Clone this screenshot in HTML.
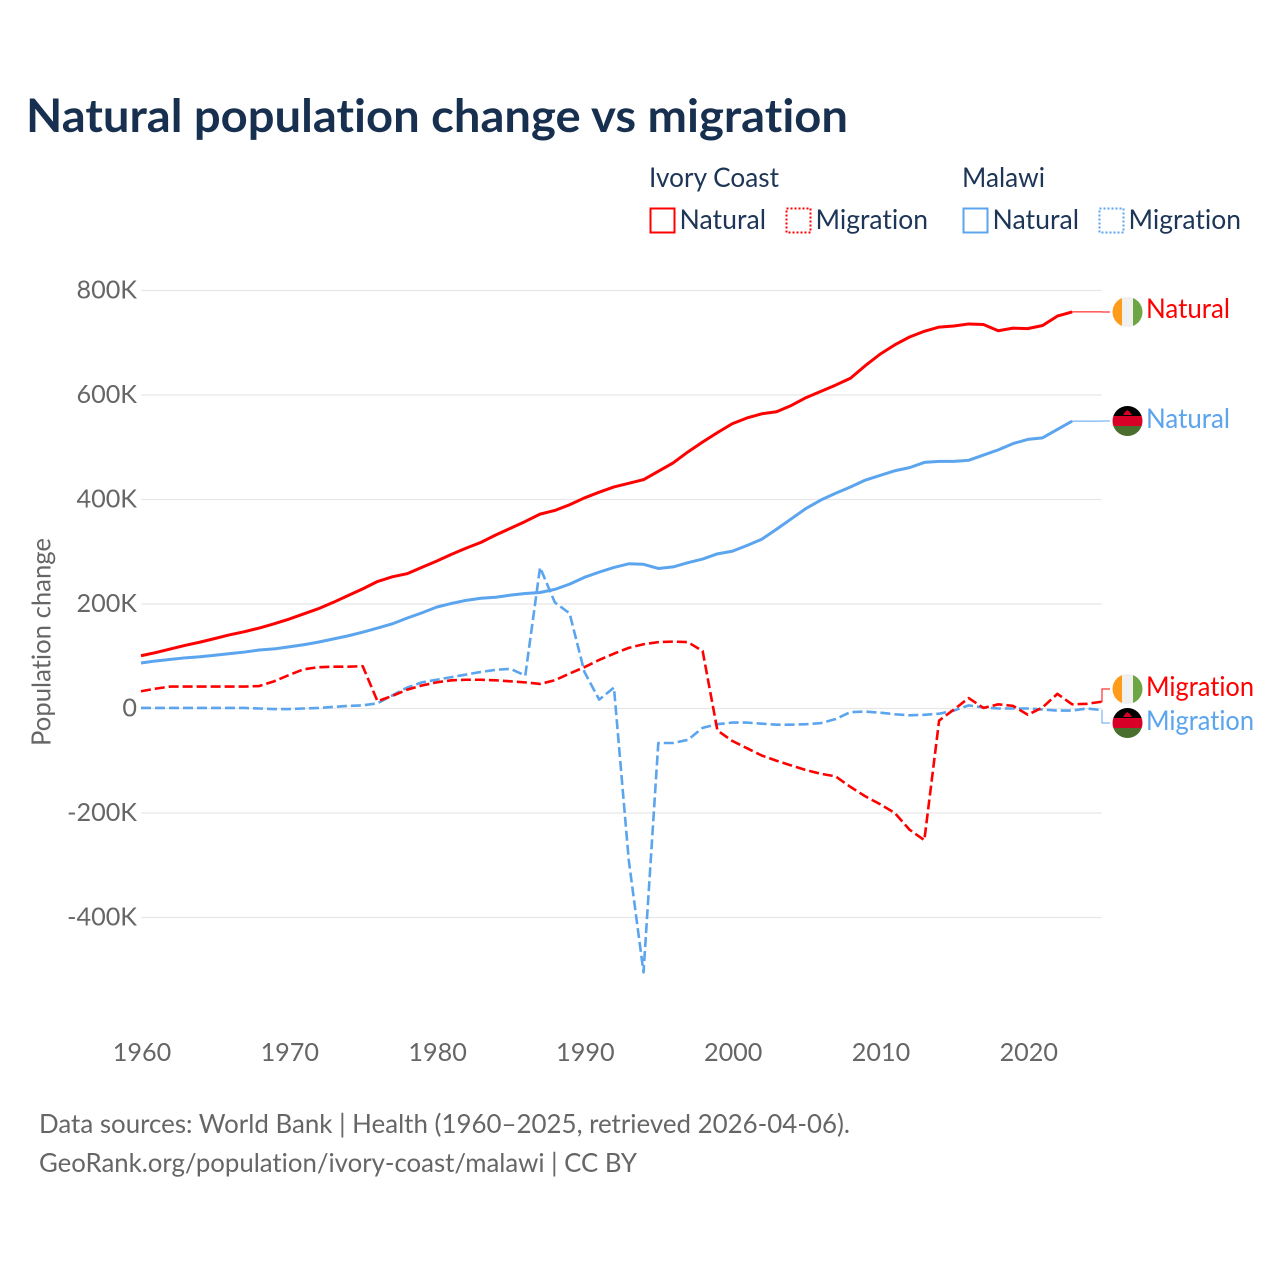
<!DOCTYPE html>
<html lang="en">
<head>
<meta charset="utf-8">
<title>Natural population change vs migration</title>
<style>
html,body{margin:0;padding:0;background:#fff;width:1280px;height:1280px;overflow:hidden}
svg{display:block}
text{font-family:"Lato","Carlito","Liberation Sans",sans-serif;font-variant-ligatures:none;font-feature-settings:"liga" 0,"clig" 0}
</style>
</head>
<body>
<svg id="chart" xmlns="http://www.w3.org/2000/svg" width="1280" height="1280" viewBox="0 0 1280 1280">
  <defs>
    <clipPath id="flag-clip-a"><circle cx="1127.5" cy="312" r="15"/></clipPath>
    <clipPath id="flag-clip-b"><circle cx="1127.5" cy="421" r="15"/></clipPath>
    <clipPath id="flag-clip-c"><circle cx="1127.5" cy="689" r="15"/></clipPath>
    <clipPath id="flag-clip-d"><circle cx="1127.5" cy="723" r="15"/></clipPath>
  </defs>
  <rect width="1280" height="1280" fill="#fff"/>
  <text x="26" y="132" font-size="46" font-weight="700" fill="#18304f" textLength="822" lengthAdjust="spacingAndGlyphs">Natural population change vs migration</text>

  <g font-size="27" fill="#1d3557">
    <text x="649" y="187" textLength="130" lengthAdjust="spacingAndGlyphs">Ivory Coast</text>
    <text x="962" y="187" textLength="83" lengthAdjust="spacingAndGlyphs">Malawi</text>
    <rect x="650.500" y="208.500" width="24" height="24" fill="none" stroke="#ff0000" stroke-width="2"/>
    <text x="679.500" y="229" textLength="86.500" lengthAdjust="spacingAndGlyphs">Natural</text>
    <rect x="786.500" y="208.500" width="24" height="24" fill="none" stroke="#ff0000" stroke-width="2" stroke-dasharray="2,2"/>
    <text x="815.500" y="229" textLength="112.500" lengthAdjust="spacingAndGlyphs">Migration</text>
    <rect x="963.500" y="208.500" width="24" height="24" fill="none" stroke="#5ba4ee" stroke-width="2"/>
    <text x="992.500" y="229" textLength="86.500" lengthAdjust="spacingAndGlyphs">Natural</text>
    <rect x="1099.500" y="208.500" width="24" height="24" fill="none" stroke="#5ba4ee" stroke-width="2" stroke-dasharray="2,2"/>
    <text x="1128.500" y="229" textLength="112.500" lengthAdjust="spacingAndGlyphs">Migration</text>
  </g>

  <g id="grid"></g>
  <g id="y-labels"></g>
  <g id="x-labels"></g>
  <text transform="translate(50.500 642) rotate(-90)" text-anchor="middle" font-size="26" fill="#666" textLength="208" lengthAdjust="spacingAndGlyphs">Population change</text>
  <g id="connectors"></g>
  <g id="series"></g>

  <g clip-path="url(#flag-clip-a)">
    <rect x="1112" y="297" width="10" height="30" fill="#ff9b1a"/><rect x="1122" y="297" width="11" height="30" fill="#f0f0f0"/><rect x="1133" y="297" width="10" height="30" fill="#6da544"/>
  </g>
  <g clip-path="url(#flag-clip-b)">
    <rect x="1112" y="406" width="31" height="10" fill="#000"/><rect x="1112" y="416" width="31" height="10" fill="#d80027"/><rect x="1112" y="426" width="31" height="10" fill="#496e2d"/><path d="M1123 415 h9 l-2 -3 l-2.500 -2 l-2.500 2z" fill="#d80027"/>
  </g>
  <g clip-path="url(#flag-clip-c)">
    <rect x="1112" y="674" width="10" height="30" fill="#ff9b1a"/><rect x="1122" y="674" width="11" height="30" fill="#f0f0f0"/><rect x="1133" y="674" width="10" height="30" fill="#6da544"/>
  </g>
  <g clip-path="url(#flag-clip-d)">
    <rect x="1112" y="708" width="31" height="10" fill="#000"/><rect x="1112" y="718" width="31" height="10" fill="#d80027"/><rect x="1112" y="728" width="31" height="10" fill="#496e2d"/><path d="M1123 717 h9 l-2 -3 l-2.500 -2 l-2.500 2z" fill="#d80027"/>
  </g>

  <g font-size="27">
    <text x="1146" y="318" fill="#ff0000" textLength="84" lengthAdjust="spacingAndGlyphs">Natural</text>
    <text x="1146" y="428" fill="#5ba4ee" textLength="84" lengthAdjust="spacingAndGlyphs">Natural</text>
    <text x="1146" y="696" fill="#ff0000" textLength="108" lengthAdjust="spacingAndGlyphs">Migration</text>
    <text x="1146" y="730" fill="#5ba4ee" textLength="108" lengthAdjust="spacingAndGlyphs">Migration</text>
  </g>

  <g font-size="26" fill="#666">
    <text x="39" y="1133" textLength="811" lengthAdjust="spacingAndGlyphs">Data sources: World Bank | Health (1960–2025, retrieved 2026-04-06).</text>
    <text x="39" y="1172" textLength="598" lengthAdjust="spacingAndGlyphs">GeoRank.org/population/ivory-coast/malawi | CC BY</text>
  </g>
</svg>
<script>
const startYear = 1960;
const xTicks = [1960, 1970, 1980, 1990, 2000, 2010, 2020];
const xTickLabels = ['1960', '1970', '1980', '1990', '2000', '2010', '2020'];
const yTicks = [800, 600, 400, 200, 0, -200, -400];
const yTickLabels = ['800K', '600K', '400K', '200K', '0', '-200K', '-400K'];
const ivoryNatural = [
  101, 107, 114, 121, 127, 134, 141, 147, 154, 162,
  171, 181, 191, 203, 216, 229, 243, 252, 258, 270,
  282, 295, 307, 318, 332, 345, 358, 372, 379, 390,
  403, 414, 424, 431, 438, 454, 470, 491, 510, 528,
  545, 556, 564, 568, 580, 595, 607, 619, 632, 656,
  678, 696, 711, 722, 730, 732, 736, 735, 723, 728,
  727, 733, 751, 759
];
const malawiNatural = [
  87, 91, 94, 97, 99, 102, 105, 108, 112, 114,
  118, 122, 127, 133, 139, 146, 154, 162, 173, 183,
  194, 201, 207, 211, 213, 217, 220, 222, 228, 238,
  251, 261, 270, 277, 276, 268, 271, 279, 286, 296,
  301, 312, 324, 343, 363, 383, 399, 412, 424, 437,
  446, 455, 461, 471, 473, 473, 475, 485, 495, 507,
  515, 518, 534, 550
];
const ivoryMigration = [
  33, 38, 42, 42, 42, 42, 42, 42, 43, 52,
  64, 75, 79, 80, 80, 81, 14, 24, 36, 44,
  50, 54, 55, 55, 54, 52, 50, 47, 54, 67,
  79, 93, 105, 116, 123, 127, 128, 127, 110, -42,
  -62, -76, -90, -100, -109, -118, -125, -130, -150, -168,
  -183, -200, -232, -252, -23, -2, 20, 1, 8, 5,
  -12, 2, 28, 8, 9, 13
];
const malawiMigration = [
  1, 1, 1, 1, 1, 1, 1, 1, 0, -1,
  -1, 0, 1, 3, 5, 6, 10, 25, 40, 50,
  55, 60, 65, 70, 74, 76, 63, 270, 203, 182,
  70, 17, 40, -290, -505, -66, -66, -60, -37, -30,
  -27, -27, -29, -31, -31, -30, -28, -20, -7, -6,
  -8, -11, -13, -12, -10, -4, 6, 2, 0, 0,
  0, -2, -4, -4, 0, -3
];

const SVGNS = 'http://www.w3.org/2000/svg';
const xScale = function (year) { return 141 + (year - startYear) * 14.78; };
const yScale = function (v) { return 708.5 - v * 0.5225; };
const lastYear = 2025;

function make(tag, attrs, parent) {
  const el = document.createElementNS(SVGNS, tag);
  for (const k in attrs) el.setAttribute(k, attrs[k]);
  parent.appendChild(el);
  return el;
}

const gridG = document.getElementById('grid');
const yLabG = document.getElementById('y-labels');
yTicks.forEach(function (t, i) {
  const line = make('line', { x1: 141, x2: xScale(lastYear), y1: yScale(t), y2: yScale(t), stroke: '#e7e7e7', 'stroke-width': 1.2 }, gridG);
  
  
  const lab = make('text', { x: 137, y: yScale(t) + 8, 'text-anchor': 'end', 'font-size': 25.2, fill: '#666' }, yLabG);
  
  
  lab.textContent = yTickLabels[i];
});

const xLabG = document.getElementById('x-labels');
xTicks.forEach(function (t, i) {
  const lab = make('text', { x: xScale(t) + 1, y: 1061, 'text-anchor': 'middle', 'font-size': 25.2, fill: '#666' }, xLabG);
  
  
  lab.textContent = xTickLabels[i];
});

function linePath(values) {
  return values.map(function (v, i) {
    return (i ? 'L' : 'M') + xScale(startYear + i).toFixed(2) + ' ' + yScale(v).toFixed(2);
  }).join(' ');
}

const seriesG = document.getElementById('series');
const connG = document.getElementById('connectors');

function drawSeries(values, color, dashed, labelY, name) {
  const p = make('path', {
    d: linePath(values), fill: 'none', stroke: color,
    'stroke-width': dashed ? 2.6 : 3,
    'stroke-linejoin': 'round'
  }, seriesG);
  if (dashed) p.setAttribute('stroke-dasharray', '10 4');
  
  

  const ex = xScale(startYear + values.length - 1);
  const ey = yScale(values[values.length - 1]);
  const midX = Math.max(ex, 1102);
  const c = make('path', {
    d: 'M' + ex + ' ' + ey + ' H' + midX + ' V' + labelY + ' H1110',
    fill: 'none', stroke: color, 'stroke-width': 1
  }, connG);
  
  
}

drawSeries(malawiMigration, '#5ba4ee', true, 723, 'line-malawi-migration');
drawSeries(malawiNatural, '#5ba4ee', false, 421, 'line-malawi-natural');
drawSeries(ivoryMigration, '#ff0000', true, 689, 'line-ivory-migration');
drawSeries(ivoryNatural, '#ff0000', false, 312, 'line-ivory-natural');
</script>
</body>
</html>
